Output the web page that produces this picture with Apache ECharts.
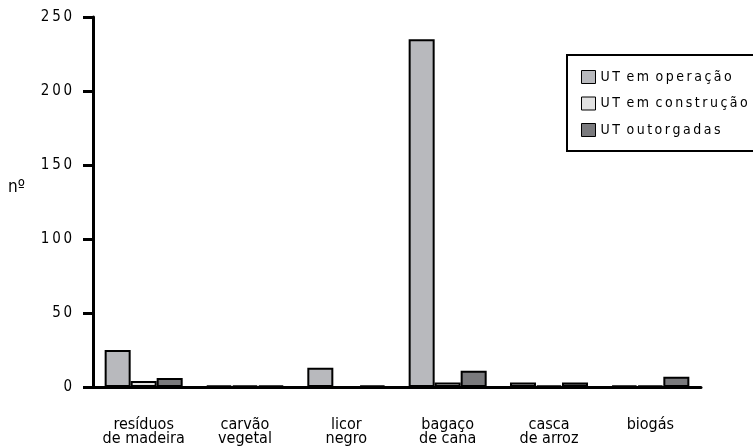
<!DOCTYPE html>
<html>
<head>
<meta charset="utf-8">
<script src="https://cdn.jsdelivr.net/npm/echarts@6/dist/echarts.min.js"></script>
<style>html,body{margin:0;padding:0;background:#fff}#c{width:753px;height:447px}</style>
</head>
<body>
<div id="c"></div>
<script>
const categories = ['resíduos\nde madeira', 'carvão\nvegetal', 'licor\nnegro', 'bagaço\nde cana', 'casca\nde arroz', 'biogás'];
const seriesNames = ['UT em operação', 'UT em construção', 'UT outorgadas'];
const emOperacao = [25, 1, 13, 235, 3, 1];
const emConstrucao = [4, 1, 0, 3, 1, 1];
const outorgadas = [6, 1, 1, 11, 3, 7];
const yTicks = [0, 50, 100, 150, 200, 250];
const yAxisTitle = 'nº';

const FONT = '"DejaVu Sans Condensed", "Liberation Sans Narrow", sans-serif';
const colors = ['#b8b9bd', '#e2e2e2', '#7a7a7d'];
const spaced = s => s.split(' ').map(w => w.split('').join('\u2009')).join(' \u2009');

const chart = echarts.init(document.getElementById('c'));
const mk = (name, data, i) => ({
  name, type: 'bar', data,
  barGap: '0%', barCategoryGap: '23%',
  itemStyle: { color: colors[i], borderColor: '#000', borderWidth: 2 },
  emphasis: { disabled: true }
});
chart.setOption({
  animation: false,
  grid: { left: 93, right: 52, top: 17, bottom: 58, containLabel: false },
  legend: {
    orient: 'vertical', left: 567, top: 55,
    data: seriesNames,
    icon: 'rect', itemWidth: 14, itemHeight: 13, itemGap: 12.5,
    borderColor: '#000', borderWidth: 2,
    padding: [15, 30, 14, 14],
    itemStyle: { borderColor: '#000', borderWidth: 1 },
    formatter: spaced,
    textStyle: { fontFamily: FONT, fontSize: 14, color: '#000', padding: [0, 0, 0, 0] }
  },
  graphic: [{ type: 'text', left: 8, top: 179, style: { text: yAxisTitle, font: '17px ' + FONT, fill: '#000' } }],
  xAxis: {
    type: 'category', data: categories,
    axisLine: { lineStyle: { color: '#000', width: 3 } },
    axisTick: { alignWithLabel: true, length: 12, lineStyle: { color: '#000', width: 3 } },
    axisLabel: { fontFamily: FONT, fontSize: 16, lineHeight: 14, color: '#000', margin: 31, interval: 0 }
  },
  yAxis: {
    type: 'value', min: yTicks[0], max: yTicks[yTicks.length - 1], interval: 50,
    splitLine: { show: false },
    axisLine: { show: true, lineStyle: { color: '#000', width: 3 } },
    axisTick: { show: true, length: 10, lineStyle: { color: '#000', width: 3 } },
    axisLabel: { fontFamily: FONT, fontSize: 15, color: '#000', margin: 21, formatter: v => String(v).split('').join('\u2009') }
  },
  series: [mk(seriesNames[0], emOperacao, 0), mk(seriesNames[1], emConstrucao, 1), mk(seriesNames[2], outorgadas, 2)]
});
</script>
</body>
</html>
